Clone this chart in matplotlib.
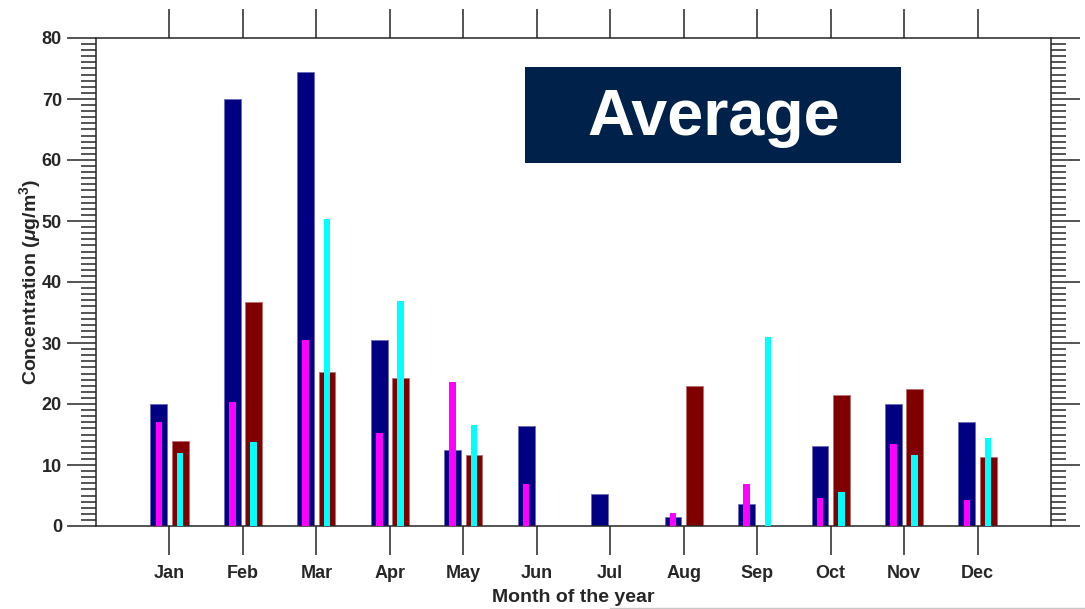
import matplotlib
matplotlib.use("Agg")
import matplotlib.pyplot as plt
from matplotlib.ticker import MultipleLocator
from matplotlib.lines import Line2D
from matplotlib.patches import Rectangle
import numpy as np

months = ["Jan", "Feb", "Mar", "Apr", "May", "Jun",
          "Jul", "Aug", "Sep", "Oct", "Nov", "Dec"]

# Wide bars (left group / right group) and the narrow bars drawn inside them
navy_vals = [20.0, 70.0, 74.4, 30.5, 12.5, 16.4, 5.2, 1.5, 3.6, 13.1, 20.0, 17.0]
magenta_vals = [17.0, 20.3, 30.5, 15.2, 23.6, 6.9, 0.0, 2.1, 6.9, 4.6, 13.5, 4.2]
maroon_vals = [13.9, 36.7, 25.2, 24.3, 11.6, 0.0, 0.0, 22.9, 0.0, 21.4, 22.5, 11.3]
cyan_vals = [12.0, 13.8, 50.3, 36.9, 16.6, 0.0, 0.0, 0.0, 31.0, 5.5, 11.6, 14.5]

plt.rcParams["font.family"] = ["Liberation Sans", "DejaVu Sans"]
plt.rcParams["font.weight"] = "bold"
plt.rcParams["mathtext.fontset"] = "custom"
plt.rcParams["mathtext.rm"] = "Liberation Sans:bold"
plt.rcParams["mathtext.it"] = "Liberation Sans:italic:bold"
plt.rcParams["mathtext.bf"] = "Liberation Sans:bold"

TXT = "#262626"
W, H = 1085, 609

fig = plt.figure(figsize=(W / 100, H / 100), dpi=100)
ax = fig.add_axes([96 / W, 1 - 526 / H, (1051 - 96) / W, (526 - 38) / H])

x = np.arange(1, 13)
off = 0.145
wide = 0.23
narrow = 0.09

ax.bar(x - off, navy_vals, wide, color="#000080", edgecolor="#6a6ab8", linewidth=0.6, zorder=2)
ax.bar(x - off, magenta_vals, narrow, color="#ff00ff", linewidth=0, zorder=3)
ax.bar(x + off, maroon_vals, wide, color="#800000", edgecolor="#b87070", linewidth=0.6, zorder=2)
ax.bar(x + off, cyan_vals, narrow, color="#00ffff", linewidth=0, zorder=3)

ax.set_xlim(0, 13)
ax.set_ylim(0, 80)

ax.set_xticks(x)
ax.set_xticklabels(months)
ax.yaxis.set_major_locator(MultipleLocator(10))
ax.yaxis.set_minor_locator(MultipleLocator(1))

for s in ax.spines.values():
    s.set_color(TXT)
    s.set_linewidth(1.1)

ax.tick_params(axis="x", which="major", direction="out", length=21, width=1.1,
               color=TXT, labelcolor=TXT, labelsize=13, pad=7,
               top=True, labeltop=False)
ax.tick_params(axis="y", which="major", direction="out", length=21, width=1.1,
               color=TXT, labelcolor=TXT, labelsize=13, pad=3.5,
               right=True, labelright=False)
ax.tick_params(axis="y", which="minor", direction="out", length=10.8, width=1.1,
               color=TXT, right=True)
for lab in ax.get_xticklabels() + ax.get_yticklabels():
    lab.set_fontweight("bold")

fig.text(573 / W, 1 - 597 / H, "Month of the year", ha="center", va="center",
         fontsize=14, fontweight="bold", color=TXT)
fig.text(30 / W, 1 - 282 / H, r"Concentration ($\mu$g/m$^{3}$)", ha="center",
         va="center", rotation=90, fontsize=14, fontweight="bold", color=TXT)

# Title box
fig.add_artist(Rectangle((525 / W, 1 - 163 / H), (901 - 525) / W, (163 - 67) / H,
                         transform=fig.transFigure, facecolor="#00224a",
                         edgecolor="none", zorder=5))
fig.text(714 / W, 1 - 118 / H, "Average", ha="center", va="center", fontsize=46.5,
         fontweight="bold", color="white", zorder=6)

fig.add_artist(Line2D([610 / W, 1.0], [1.5 / H, 1.5 / H], color="#c8c8c8",
                      linewidth=1.0, transform=fig.transFigure))

fig.savefig("out.png", dpi=100)
